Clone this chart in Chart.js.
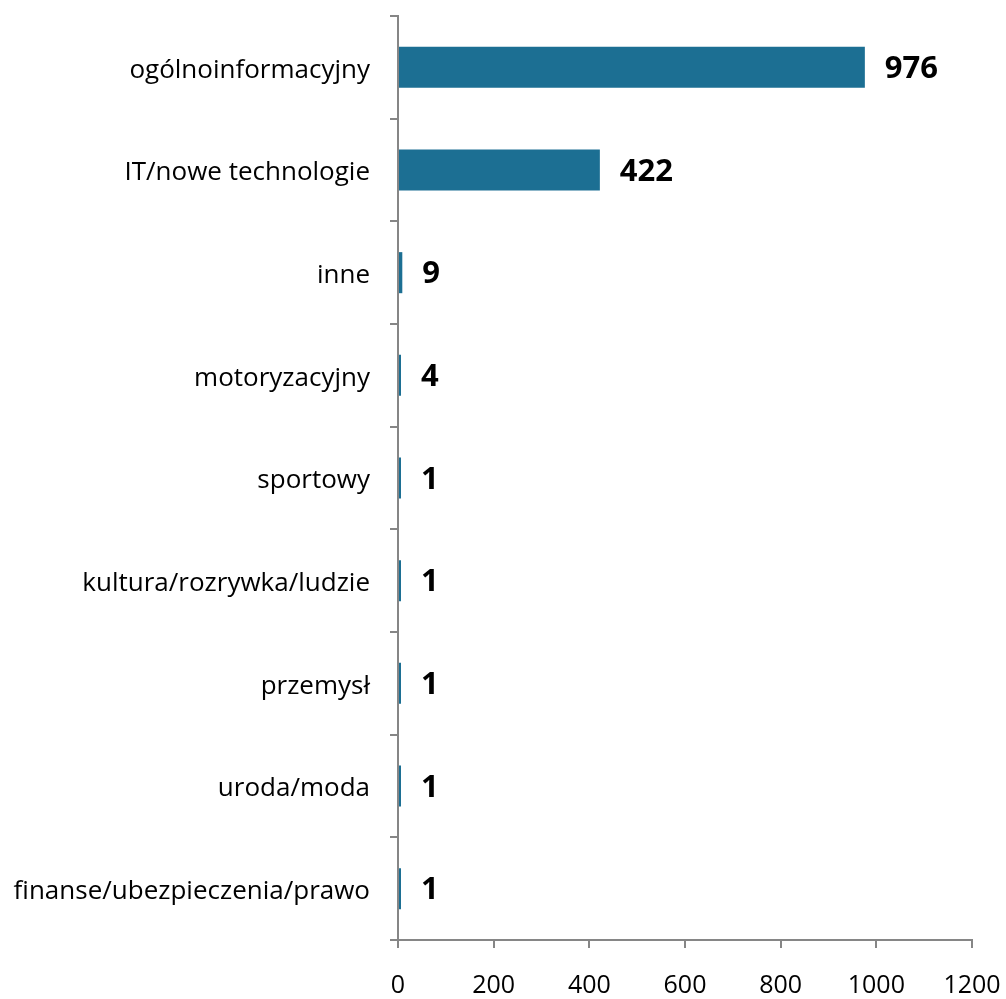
<!DOCTYPE html>
<html>
<head>
<meta charset="utf-8">
<script src="https://cdn.jsdelivr.net/npm/chart.js@4/dist/chart.umd.min.js"></script>
<style>
  html, body { margin: 0; padding: 0; background: #fff; }
  #wrap { width: 1006px; height: 999px; }
</style>
</head>
<body>
<div id="wrap"><canvas id="chart"></canvas></div>
<script>
// categories and counts, top to bottom
const categories = [
  'ogólnoinformacyjny',
  'IT/nowe technologie',
  'inne',
  'motoryzacyjny',
  'sportowy',
  'kultura/rozrywka/ludzie',
  'przemysł',
  'uroda/moda',
  'finanse/ubezpieczenia/prawo'
];
const counts = [976, 422, 9, 4, 1, 1, 1, 1, 1];
const xTicks = [0, 200, 400, 600, 800, 1000, 1200];

const axisGray = '#868686';
const fontFamily = '"Open Sans", Lato, sans-serif';

// value labels to the right of each bar
const valueLabels = {
  id: 'valueLabels',
  afterDatasetsDraw(chart) {
    const ctx = chart.ctx;
    const meta = chart.getDatasetMeta(0);
    ctx.save();
    ctx.font = 'bold 31px ' + fontFamily;
    ctx.fillStyle = '#000';
    ctx.textAlign = 'left';
    ctx.textBaseline = 'middle';
    meta.data.forEach((bar, i) => {
      ctx.fillText(String(counts[i]), bar.x + 20, bar.y + 2);
    });
    ctx.restore();
  }
};

new Chart(document.getElementById('chart'), {
  type: 'bar',
  data: {
    labels: categories,
    datasets: [{
      data: counts,
      backgroundColor: '#1c6f93',
      borderWidth: 0,
      barPercentage: 1,
      categoryPercentage: 0.4,
      minBarLength: 3
    }]
  },
  options: {
    indexAxis: 'y',
    responsive: true,
    maintainAspectRatio: false,
    animation: false,
    layout: { padding: { top: 0, right: 0, left: 0, bottom: 0 } },
    plugins: {
      legend: { display: false },
      tooltip: { enabled: false }
    },
    scales: {
      x: {
        min: 0,
        max: 1200,
        afterBuildTicks(scale) {
          scale.ticks = xTicks.map(v => ({ value: v }));
        },
        afterFit(scale) {
          scale.height = 59;
          scale.paddingRight = 34;
          scale.paddingLeft = 0;
        },
        border: { color: axisGray, width: 2 },
        grid: {
          drawOnChartArea: false,
          drawTicks: true,
          tickLength: 8,
          color: axisGray,
          lineWidth: 2
        },
        ticks: {
          color: '#000',
          padding: 23,
          maxRotation: 0,
          callback: v => String(v),
          font: { family: fontFamily, size: 25 }
        }
      },
      y: {
        afterFit(scale) {
          scale.width = 398;
          scale.paddingTop = 16;
          scale.paddingBottom = 0;
        },
        border: { color: axisGray, width: 2 },
        grid: {
          offset: true,
          drawOnChartArea: false,
          drawTicks: true,
          tickLength: 8,
          color: axisGray,
          lineWidth: 2
        },
        ticks: {
          color: '#000',
          padding: 20,
          labelOffset: 3,
          font: { family: fontFamily, size: 26 }
        }
      }
    }
  },
  plugins: [valueLabels]
});
</script>
</body>
</html>
